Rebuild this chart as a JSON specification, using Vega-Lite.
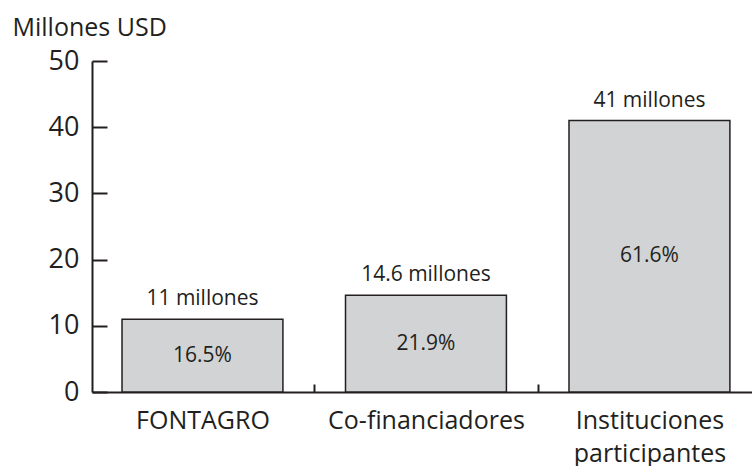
{
  "$schema": "https://vega.github.io/schema/vega-lite/v6.json",
  "width": 660,
  "height": 331,
  "autosize": "none",
  "padding": {"left": 92, "top": 61, "right": 0, "bottom": 74},
  "background": "white",
  "config": {"view": {"stroke": null}, "font": "Open Sans"},
  "data": {
    "values": [
      {"cat": "FONTAGRO", "value": 11, "top": "11 millones", "pct": "16.5%"},
      {"cat": "Co-financiadores", "value": 14.6, "top": "14.6 millones", "pct": "21.9%"},
      {"cat": "Instituciones participantes", "value": 41, "top": "41 millones", "pct": "61.6%"}
    ]
  },
  "encoding": {
    "x": {
      "field": "cat",
      "type": "nominal",
      "sort": null,
      "scale": {"paddingInner": 0.28, "paddingOuter": 0.1166, "align": 0.576},
      "axis": {
        "title": null,
        "labelAngle": 0,
        "labelFontSize": 25,
        "labelColor": "#231f20",
        "labelPadding": 24,
        "labelLineHeight": 33,
        "labelLimit": 0,
        "labelExpr": "split(datum.label, ' ')",
        "domainColor": "#231f20",
        "domainWidth": 2,
        "bandPosition": 1,
        "tickExtra": false,
        "tickOffset": 31.25,
        "labelOffset": -31.25,
        "tickSize": -8,
        "tickWidth": 2,
        "tickColor": "#231f20"
      }
    }
  },
  "layer": [
    {
      "mark": {"type": "bar", "fill": "#d1d3d4", "stroke": "#231f20", "strokeWidth": 1.5},
      "encoding": {
        "y": {
          "field": "value",
          "type": "quantitative",
          "scale": {"domain": [0, 50], "nice": false},
          "axis": {
            "values": [0, 10, 20, 30, 40, 50],
            "grid": false,
            "title": "Millones USD",
            "titleAngle": 0,
            "titleAlign": "left",
            "titleBaseline": "alphabetic",
            "titleX": -80,
            "titleY": -26,
            "titleFontSize": 25,
            "titleFontWeight": "normal",
            "titleColor": "#231f20",
            "labelFontSize": 27,
            "labelColor": "#231f20",
            "labelPadding": 28,
            "tickSize": -15,
            "tickWidth": 2,
            "tickColor": "#231f20",
            "domainColor": "#231f20",
            "domainWidth": 2
          }
        }
      }
    },
    {
      "mark": {"type": "text", "baseline": "alphabetic", "dy": -14, "fontSize": 21, "color": "#231f20"},
      "encoding": {
        "y": {"field": "value", "type": "quantitative"},
        "text": {"field": "top"}
      }
    },
    {
      "transform": [{"calculate": "datum.value / 2", "as": "mid"}],
      "mark": {"type": "text", "baseline": "middle", "fontSize": 21, "color": "#231f20"},
      "encoding": {
        "y": {"field": "mid", "type": "quantitative"},
        "text": {"field": "pct"}
      }
    }
  ]
}
